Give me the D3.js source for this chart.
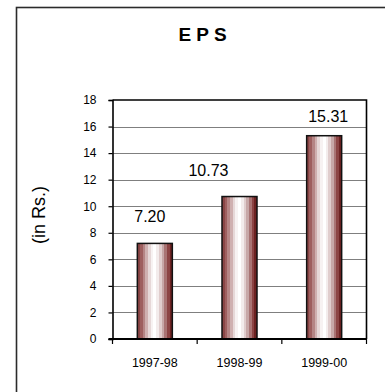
<!DOCTYPE html>
<html>
<head>
<meta charset="utf-8">
<script src="https://cdn.jsdelivr.net/npm/d3@7"></script>
<style>
  html, body { margin: 0; padding: 0; background: #fff; }
  svg { display: block; font-family: "Liberation Sans", Arial, sans-serif; }
</style>
</head>
<body>
<svg id="chart" width="385" height="392"></svg>
<script>
// EPS by financial year
const years = ["1997-98", "1998-99", "1999-00"];
const eps = [7.20, 10.73, 15.31];
const yTicks = [0, 2, 4, 6, 8, 10, 12, 14, 16, 18];

// horizontal nudges for the value labels (layout only)
const labelNudge = [-5, -31, 4];

const plot = { left: 112.5, right: 366.5, top: 100, bottom: 339 };

const svg = d3.select("#chart");

// outer chart frame (runs past the right and bottom edges)
svg.append("rect")
  .attr("x", 16.5).attr("y", 7.5)
  .attr("width", 373).attr("height", 400)
  .attr("fill", "#fff")
  .attr("stroke", "#2b2b2b").attr("stroke-width", 1.6);

const x = d3.scaleBand().domain(years).range([plot.left, plot.right]).paddingInner(0).paddingOuter(0);
const y = d3.scaleLinear().domain([0, 18]).range([plot.bottom, plot.top]);

// bar shading: banded maroon-to-white cylinder look
const defs = svg.append("defs");
const grad = defs.append("linearGradient").attr("id", "barShade")
  .attr("x1", "0%").attr("x2", "100%").attr("y1", "0%").attr("y2", "0%");
const bands = ["#8a4545", "#9e5f5f", "#b58585", "#cfb0b0", "#e6d8d8", "#f7f2f2", "#ffffff",
               "#f3ecec", "#e0cdcd", "#c7a7a7", "#a97474", "#8c4444", "#6d2222"];
bands.forEach((c, i) => {
  grad.append("stop").attr("offset", (i / bands.length * 100) + "%").attr("stop-color", c);
  grad.append("stop").attr("offset", ((i + 1) / bands.length * 100) + "%").attr("stop-color", c);
});

// horizontal gridlines
svg.append("g")
  .selectAll("line")
  .data(yTicks.filter(t => t > 0 && t < 18))
  .join("line")
  .attr("x1", plot.left).attr("x2", plot.right)
  .attr("y1", d => Math.round(y(d)) + 0.5).attr("y2", d => Math.round(y(d)) + 0.5)
  .attr("stroke", "#7f7f7f").attr("stroke-width", 1.2);

// plot area border (top and right)
svg.append("path")
  .attr("d", `M${plot.left},${plot.top}H${plot.right}V${plot.bottom}`)
  .attr("fill", "none").attr("stroke", "#000").attr("stroke-width", 1.6);

// bars
const barW = 35;
svg.append("g")
  .selectAll("rect")
  .data(eps)
  .join("rect")
  .attr("x", (d, i) => x(years[i]) + x.bandwidth() / 2 - barW / 2)
  .attr("y", d => y(d))
  .attr("width", barW)
  .attr("height", d => y(0) - y(d))
  .attr("fill", "url(#barShade)")
  .attr("stroke", "#111").attr("stroke-width", 1.5);

// value labels
svg.append("g")
  .selectAll("text")
  .data(eps)
  .join("text")
  .attr("x", (d, i) => x(years[i]) + x.bandwidth() / 2 + labelNudge[i])
  .attr("y", d => Math.max(y(d) - 21, plot.top + 22))
  .attr("text-anchor", "middle")
  .attr("font-size", 16)
  .attr("fill", "#000")
  .text(d => d.toFixed(2));

// y axis
const yAxis = d3.axisLeft(y).tickValues(yTicks).tickSize(4).tickPadding(12).tickFormat(d3.format("d"));
const gy = svg.append("g").attr("transform", `translate(${plot.left},0)`).call(yAxis);
gy.select(".domain").attr("stroke", "#000").attr("stroke-width", 1.6);
gy.selectAll(".tick line").attr("stroke", "#000").attr("stroke-width", 1.2);
gy.selectAll(".tick text").attr("font-size", 12).attr("fill", "#000")
  .attr("font-family", "'Liberation Sans', Arial, sans-serif");

// x axis with ticks on category boundaries
const gx = svg.append("g").attr("transform", `translate(0,${plot.bottom})`);
gx.append("line").attr("x1", plot.left - 4).attr("x2", plot.right)
  .attr("stroke", "#000").attr("stroke-width", 1.8);
gx.selectAll("line.edge")
  .data(years.map(d => x(d)).concat([plot.right]))
  .join("line").attr("class", "edge")
  .attr("x1", d => d).attr("x2", d => d)
  .attr("y1", 0).attr("y2", 5)
  .attr("stroke", "#000").attr("stroke-width", 1.2);
gx.selectAll("text.cat")
  .data(years)
  .join("text").attr("class", "cat")
  .attr("x", d => x(d) + x.bandwidth() / 2)
  .attr("y", 28)
  .attr("text-anchor", "middle")
  .attr("font-size", 12.5)
  .attr("fill", "#000")
  .text(d => d);

// title
svg.append("text")
  .attr("x", 202.5).attr("y", 41)
  .attr("text-anchor", "middle")
  .attr("font-size", 19).attr("font-weight", "bold")
  .text("E P S");

// y axis title
svg.append("text")
  .attr("transform", "translate(45,215) rotate(-90)")
  .attr("text-anchor", "middle")
  .attr("font-size", 18)
  .text("(in Rs.)");
</script>
</body>
</html>
